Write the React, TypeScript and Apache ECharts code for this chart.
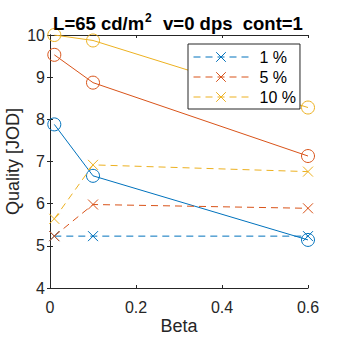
import React, { useEffect, useRef } from "react";
import * as echarts from "echarts";

const betas = [0.01, 0.1, 0.6];
const seriesNames = ["1 %", "5 %", "10 %"];
const colors = ["#0072BD", "#D95319", "#EDB120"];
const solidBlue = [7.88, 6.66, 5.14];
const solidOrange = [9.53, 8.87, 7.13];
const solidYellow = [10.0, 9.87, 8.28];
const dashedBlue = [5.23, 5.23, 5.23];
const dashedOrange = [5.23, 5.98, 5.89];
const dashedYellow = [5.64, 6.92, 6.76];

const FONT = "'Liberation Sans', Arial, Helvetica, sans-serif";
const AX = "#262626";
const XPATH = "path://M0,0L10,10M10,0L0,10";

export default function App() {
  const ref = useRef<HTMLDivElement>(null);
  useEffect(() => {
    const chart = echarts.init(ref.current!, null, { renderer: "svg" });
    const solids = [solidBlue, solidOrange, solidYellow];
    const dashed = [dashedBlue, dashedOrange, dashedYellow];
    const series: any[] = [];
    solids.forEach((vals, i) => {
      series.push({
        type: "line",
        name: "solid" + i,
        data: betas.map((b, j) => [b, vals[j]]),
        symbol: "circle",
        symbolSize: 13,
        showAllSymbol: true,
        lineStyle: { color: colors[i], width: 1 },
        itemStyle: { color: "rgba(0,0,0,0)", borderColor: colors[i], borderWidth: 1 },
        z: 2,
      });
    });
    dashed.forEach((vals, i) => {
      series.push({
        type: "line",
        name: seriesNames[i],
        data: betas.map((b, j) => [b, vals[j]]),
        symbol: XPATH,
        symbolSize: 10,
        lineStyle: { color: colors[i], width: 1, type: [7, 5] },
        itemStyle: { color: "rgba(0,0,0,0)", borderColor: colors[i], borderWidth: 1 },
        z: 3,
      });
    });
    const axisCommon = {
      axisLine: { show: true, lineStyle: { color: AX, width: 1 } },
      axisTick: { show: true, inside: true, length: 3, lineStyle: { color: AX } },
      splitLine: { show: false },
    };
    chart.setOption({
      animation: false,
      title: {
        text: "{a|L=65 cd/m}{s|2}{a|  v=0 dps  cont=1}",
        left: 173,
        textAlign: "center",
        top: 7,
        textStyle: {
          rich: {
            a: { fontFamily: FONT, fontWeight: "bold", fontSize: 18.5, color: "#000", height: 22, verticalAlign: "bottom" },
            s: { fontFamily: FONT, fontWeight: "bold", fontSize: 12, color: "#000", verticalAlign: "top", padding: [0, 1, 9, 1] },
          },
        },
      },
      grid: { left: 50, right: 32, top: 35, bottom: 52, outerBoundsMode: "none", containLabel: false },
      legend: {
        data: seriesNames.map((n) => ({ name: n, itemStyle: { borderWidth: 1 }, lineStyle: { width: 1 } })),
        orient: "vertical",
        left: 188,
        top: 44,
        itemWidth: 55,
        itemHeight: 12,
        itemGap: 4,
        padding: [5, 4, 4, 5],
        borderColor: "#262626",
        borderWidth: 1,
        backgroundColor: "#fff",
        textStyle: { fontFamily: FONT, fontSize: 16, color: "#000", padding: [0, 0, 0, 6] },
      },
      xAxis: [
        {
          type: "value",
          min: 0,
          max: 0.6,
          interval: 0.2,
          name: "Beta",
          nameLocation: "middle",
          nameGap: 29,
          nameMoveOverlap: false,
          nameTextStyle: { fontFamily: FONT, fontSize: 18, color: AX },
          axisLabel: { fontFamily: FONT, fontSize: 16, color: AX, margin: 11, formatter: (v: number) => String(+v.toFixed(1)) },
          ...axisCommon,
        },
        {
          type: "value",
          position: "top",
          min: 0,
          max: 0.6,
          interval: 0.2,
          axisLabel: { show: false },
          ...axisCommon,
        },
      ],
      yAxis: [
        {
          type: "value",
          min: 4,
          max: 10,
          interval: 1,
          name: "Quality [JOD]",
          nameLocation: "middle",
          nameGap: 28,
          nameMoveOverlap: false,
          nameTextStyle: { fontFamily: FONT, fontSize: 18, color: AX },
          axisLabel: { fontFamily: FONT, fontSize: 16, color: AX, margin: 5 },
          ...axisCommon,
        },
        {
          type: "value",
          position: "right",
          min: 4,
          max: 10,
          interval: 1,
          axisLabel: { show: false },
          ...axisCommon,
        },
      ],
      series,
    });
    return () => chart.dispose();
  }, []);
  return <div ref={ref} style={{ width: 340, height: 340, position: "absolute", left: 0, top: 0, background: "#fff" }} />;
}
